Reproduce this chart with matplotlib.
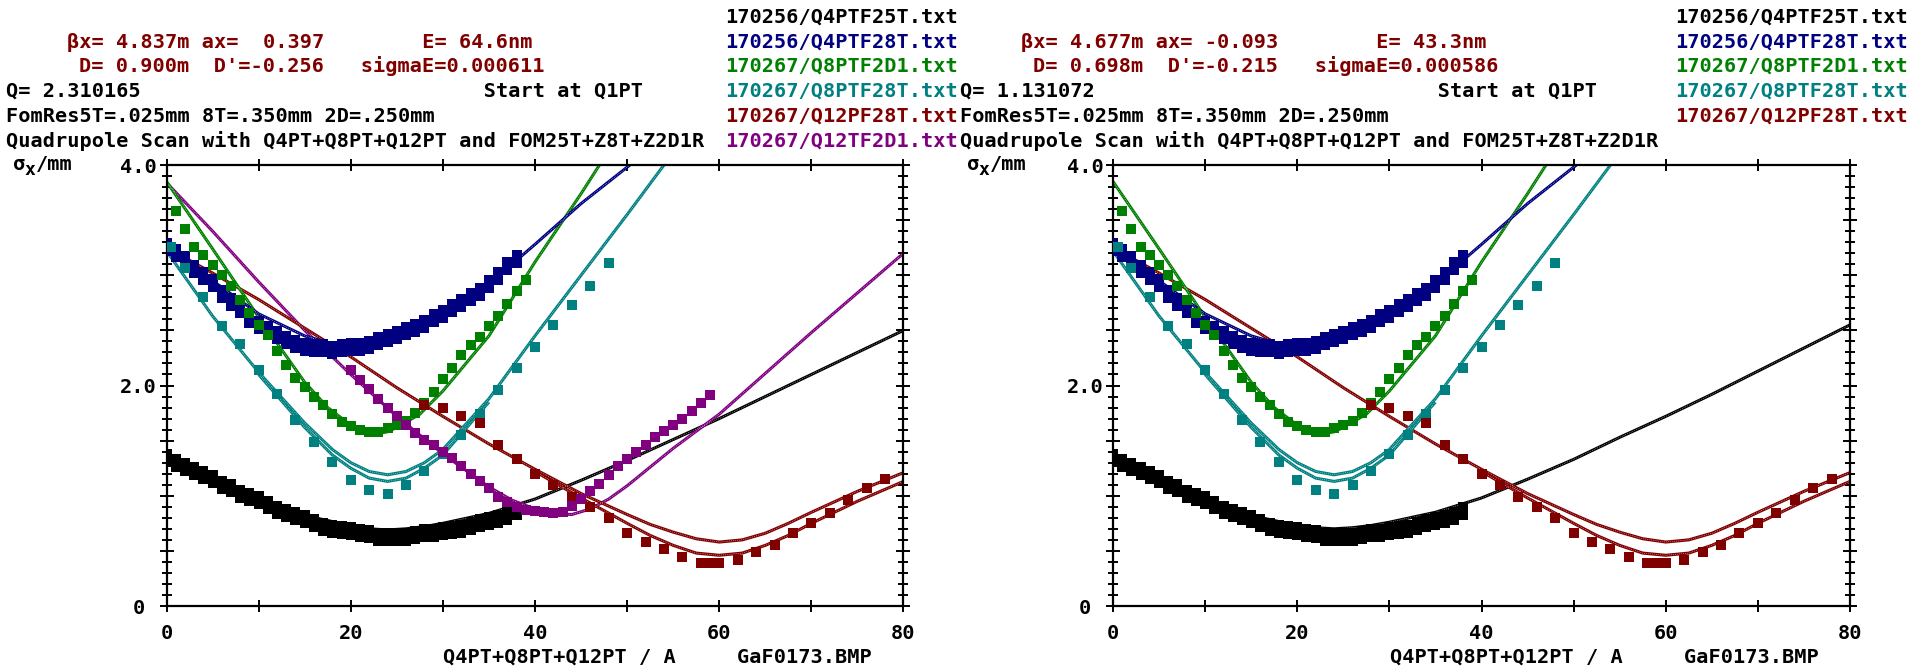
import matplotlib.pyplot as plt
from matplotlib.ticker import MultipleLocator, FuncFormatter

W, H = 1907, 669

# measured sigma_x (mm) vs quad current (A) -- same scan files on both panels
x_black = [0, 1, 2, 3, 4, 5, 6, 7, 8, 9, 10, 11, 12, 13, 14, 15, 16, 17, 18, 19,
           20, 21, 22, 23, 24, 25, 26, 27, 28, 29, 30, 31, 32, 33, 34, 35, 36, 37, 38]
y_black = [1.34, 1.30, 1.26, 1.22, 1.19, 1.15, 1.10, 1.07, 1.02, 0.99,
           0.96, 0.92, 0.87, 0.84, 0.82, 0.79, 0.75, 0.72, 0.70, 0.69,
           0.68, 0.66, 0.65, 0.63, 0.63, 0.63, 0.63, 0.64, 0.66, 0.66,
           0.68, 0.69, 0.70, 0.73, 0.75, 0.77, 0.79, 0.82, 0.86]

x_blue = x_black
y_blue = [3.26, 3.20, 3.14, 3.06, 2.99, 2.93, 2.83, 2.76, 2.69, 2.60,
          2.55, 2.50, 2.46, 2.41, 2.38, 2.35, 2.34, 2.34, 2.32, 2.34,
          2.35, 2.35, 2.37, 2.40, 2.43, 2.46, 2.49, 2.52, 2.56, 2.61,
          2.65, 2.70, 2.75, 2.80, 2.85, 2.92, 2.99, 3.08, 3.15]

x_green = [1, 2, 3, 4, 5, 6, 7, 8, 9, 10, 11, 12, 13, 14, 15, 16, 17, 18, 19, 20,
           21, 22, 23, 24, 25, 26, 27, 28, 29, 30, 31, 32, 33, 34, 35, 36, 37, 38, 39]
y_green = [3.58, 3.42, 3.26, 3.18, 3.09, 3.00, 2.90, 2.78, 2.66, 2.55,
           2.46, 2.31, 2.19, 2.07, 1.99, 1.90, 1.82, 1.74, 1.67, 1.63,
           1.60, 1.58, 1.58, 1.61, 1.64, 1.68, 1.75, 1.84, 1.94, 2.06,
           2.16, 2.28, 2.37, 2.44, 2.54, 2.63, 2.74, 2.86, 2.96]

x_teal = [0.5, 2, 4, 6, 8, 10, 12, 14, 16, 18, 20, 22, 24, 26, 28, 30, 32, 34,
          36, 38, 40, 42, 44, 46, 48]
y_teal = [3.26, 3.07, 2.80, 2.54, 2.38, 2.14, 1.92, 1.69, 1.49, 1.31, 1.14,
          1.05, 1.02, 1.10, 1.22, 1.38, 1.55, 1.74, 1.96, 2.16, 2.35, 2.55,
          2.73, 2.90, 3.11]

x_red = [28, 30, 32, 34, 36, 38, 40, 42, 44, 46, 48, 50, 52, 54, 56, 58, 59, 60,
         62, 64, 66, 68, 70, 72, 74, 76, 78]
y_red = [1.82, 1.80, 1.72, 1.66, 1.46, 1.33, 1.20, 1.10, 0.99, 0.90, 0.80, 0.66,
         0.58, 0.52, 0.44, 0.39, 0.39, 0.39, 0.42, 0.49, 0.55, 0.66, 0.75, 0.84,
         0.96, 1.07, 1.15]

x_purple = [20, 21, 22, 23, 24, 25, 26, 27, 28, 29, 30, 31, 32, 33, 34, 35, 36, 37,
            38, 39, 40, 41, 42, 43, 44, 45, 46, 47, 48, 49, 50, 51, 52, 53, 54, 55,
            56, 57, 58, 59]
y_purple = [2.14, 2.05, 1.97, 1.88, 1.80, 1.72, 1.64, 1.57, 1.51, 1.46, 1.40,
            1.34, 1.27, 1.20, 1.13, 1.07, 0.99, 0.94, 0.90, 0.87, 0.86, 0.85,
            0.84, 0.85, 0.91, 0.97, 1.04, 1.11, 1.19, 1.27, 1.33, 1.40, 1.46,
            1.53, 1.59, 1.64, 1.70, 1.77, 1.84, 1.91]

# fitted envelopes, left panel (Q= 2.310165)
fx_black = [0, 5, 10, 15, 20, 22, 24, 26, 28, 30, 35, 40, 45, 50, 55, 60, 65, 70, 75, 80]
fy_black_l = [1.38, 1.14, 0.96, 0.82, 0.73, 0.70, 0.69, 0.70, 0.72, 0.75, 0.84,
              0.97, 1.14, 1.32, 1.51, 1.70, 1.90, 2.10, 2.30, 2.50]
fx_blue = [0, 5, 10, 15, 17.5, 20, 22.5, 25, 30, 35, 40, 45, 50.3]
fy_blue_l = [3.30, 2.95, 2.65, 2.45, 2.39, 2.37, 2.39, 2.45, 2.63, 2.92, 3.28,
             3.65, 4.0]
fx_green = [0, 5, 10, 15, 17.5, 20, 21, 22.5, 24, 25, 27.5, 30, 35, 40, 45, 47]
fy_green_l = [3.85, 3.24, 2.62, 2.03, 1.80, 1.64, 1.59, 1.56, 1.58, 1.62, 1.74,
              1.95, 2.45, 3.12, 3.74, 4.0]
fx_teal = [0, 5, 10, 15, 18, 20, 22, 24, 26, 28, 30, 35, 40, 45, 50, 54]
fy_teal_l = [3.22, 2.63, 2.12, 1.66, 1.42, 1.30, 1.22, 1.19, 1.22, 1.30, 1.42,
             1.88, 2.45, 3.0, 3.55, 4.0]
fx_teal2 = [10, 15, 18, 20, 22, 24, 26, 28, 30, 35]
fy_teal2_l = [2.10, 1.62, 1.37, 1.25, 1.16, 1.13, 1.16, 1.25, 1.37, 1.85]
fx_red = [0, 5, 10, 15, 20, 25, 30, 35, 40, 45, 50, 52.5, 55, 57.5, 60, 62.5, 65,
          67.5, 70, 75, 80]
fy_red_l = [3.25, 3.02, 2.78, 2.52, 2.26, 1.98, 1.72, 1.47, 1.24, 1.02, 0.83, 0.74,
            0.67, 0.61, 0.58, 0.60, 0.66, 0.75, 0.85, 1.04, 1.21]
fx_red2 = [40, 45, 50, 52.5, 55, 57.5, 60, 62.5, 65, 67.5, 70, 75, 80]
fy_red2_l = [1.22, 0.98, 0.75, 0.64, 0.55, 0.48, 0.46, 0.48, 0.55, 0.64, 0.75,
             0.95, 1.13]
fx_purple = [0, 5, 10, 15, 20, 25, 30, 35, 37.5, 40, 42, 44, 46, 48, 50, 52.5, 55,
             60, 65, 70, 75, 80]
fy_purple_l = [3.84, 3.40, 2.94, 2.50, 2.10, 1.72, 1.38, 1.08, 0.96, 0.88, 0.835,
               0.83, 0.88, 0.97, 1.09, 1.26, 1.43, 1.74, 2.11, 2.48, 2.84, 3.20]

# fitted envelopes, right panel (Q= 1.131072)
fy_black_r = [1.38, 1.14, 0.96, 0.82, 0.73, 0.71, 0.70, 0.71, 0.73, 0.76, 0.85,
              0.98, 1.15, 1.33, 1.53, 1.72, 1.92, 2.13, 2.34, 2.55]
fy_blue_r = fy_blue_l
fy_green_r = fy_green_l
fy_teal_r = fy_teal_l
fy_teal2_r = fy_teal2_l
fy_red_r = fy_red_l
fy_red2_r = fy_red2_l

files = ["170256/Q4PTF25T.txt", "170256/Q4PTF28T.txt", "170267/Q8PTF2D1.txt",
         "170267/Q8PTF28T.txt", "170267/Q12PF28T.txt", "170267/Q12TF2D1.txt"]
file_colors = ["#000000", "#000080", "#008000", "#008080", "#800000", "#800080"]

panels = [
    dict(beta="βx= 4.837m ax=  0.397        E= 64.6nm",
         disp="D= 0.900m  D'=-0.256   sigmaE=0.000611",
         q="Q= 2.310165", nfiles=6,
         fits=[(fx_black, fy_black_l, "#000000"), (fx_purple, fy_purple_l, "#800080"),
               (fx_red, fy_red_l, "#800000"), (fx_red2, fy_red2_l, "#800000"),
               (fx_teal, fy_teal_l, "#008080"), (fx_teal2, fy_teal2_l, "#008080"),
               (fx_green, fy_green_l, "#008000"), (fx_blue, fy_blue_l, "#000080")]),
    dict(beta="βx= 4.677m ax= -0.093        E= 43.3nm",
         disp="D= 0.698m  D'=-0.215   sigmaE=0.000586",
         q="Q= 1.131072", nfiles=5,
         fits=[(fx_black, fy_black_r, "#000000"),
               (fx_red, fy_red_r, "#800000"), (fx_red2, fy_red2_r, "#800000"),
               (fx_teal, fy_teal_r, "#008080"), (fx_teal2, fy_teal2_r, "#008080"),
               (fx_green, fy_green_r, "#008000"), (fx_blue, fy_blue_r, "#000080")]),
]

MONO = "DejaVu Sans Mono"
FS = 14.6
CW = 12.2  # character advance in px

plt.rcParams["font.family"] = MONO
plt.rcParams["font.weight"] = "bold"
fig = plt.figure(figsize=(W / 100, H / 100), dpi=100)


def ftext(px, py, s, color="#000000", **kw):
    fig.text(px / W, 1 - py / H, s, color=color, fontsize=kw.pop("fontsize", FS),
             va="center", ha="left", family=MONO, weight="bold", **kw)


tall = [(-0.5, -1), (0.5, -1), (0.5, 1), (-0.5, 1), (-0.5, -1)]

rows = [17, 42, 66, 91, 116, 141]
for i, p in enumerate(panels):
    x0 = 6 if i == 0 else 960
    ftext(x0 + 5 * CW, rows[1], p["beta"], "#800000")
    ftext(x0 + 6 * CW, rows[2], p["disp"], "#800000")
    ftext(x0, rows[3], f"{p['q']:<39}Start at Q1PT")
    ftext(x0, rows[4], "FomRes5T=.025mm 8T=.350mm 2D=.250mm")
    ftext(x0, rows[5], "Quadrupole Scan with Q4PT+Q8PT+Q12PT and FOM25T+Z8T+Z2D1R")
    lx = 725 if i == 0 else 1675
    for k in range(p["nfiles"]):
        ftext(lx, rows[k], files[k], file_colors[k])
    ftext(x0 + 7, 164, "σ")
    ftext(x0 + 19, 170, "x", fontsize=13)
    ftext(x0 + 30, 164, "/mm")

    left = 166.5 if i == 0 else 1113
    ax = fig.add_axes([left / W, 63 / H, 737 / W, 441 / H])
    ax.set_xlim(0, 80)
    ax.set_ylim(0, 4.0)

    for fx, fy, c in p["fits"]:
        ax.plot(fx, fy, color=c, lw=2.2, solid_capstyle="butt", zorder=2)
        ax.plot(fx, fy, color="white", lw=0.5, dashes=(0.8, 2.0), zorder=2.1)

    ms = 7.3
    ax.plot(x_black, y_black, ls="none", marker=tall, ms=13, mew=0, color="#000000", zorder=3)
    ax.plot(x_blue, y_blue, ls="none", marker=tall, ms=13, mew=0, color="#000080", zorder=3)
    ax.plot(x_green, y_green, ls="none", marker="s", ms=ms, mew=0, color="#008000", zorder=3)
    ax.plot(x_teal, y_teal, ls="none", marker="s", ms=ms, mew=0, color="#008080", zorder=3)
    ax.plot(x_red, y_red, ls="none", marker="s", ms=ms, mew=0, color="#800000", zorder=3)
    if i == 0:
        ax.plot(x_purple, y_purple, ls="none", marker="s", ms=ms, mew=0,
                color="#800080", zorder=3)

    for s in ax.spines.values():
        s.set_linewidth(1.6)
    ax.xaxis.set_major_locator(MultipleLocator(10))
    ax.yaxis.set_major_locator(MultipleLocator(0.5))
    ax.yaxis.set_minor_locator(MultipleLocator(0.1))
    ax.xaxis.set_major_formatter(FuncFormatter(lambda v, _: "%d" % v if v % 20 == 0 else ""))
    ax.yaxis.set_major_formatter(FuncFormatter(
        lambda v, _: {0: "0", 2: "2.0", 4: "4.0"}.get(round(v, 1), "")))
    ax.tick_params(which="both", direction="inout", top=True, right=True,
                   labelsize=FS, width=1.4, color="#000000")
    ax.tick_params(axis="y", which="major", length=10, pad=15)
    ax.tick_params(axis="y", which="minor", length=7)
    ax.tick_params(axis="x", which="major", length=8, pad=16)
    plt.setp(ax.get_yticklabels(), ha="center")
    plt.setp(ax.get_xticklabels(), va="center")

    ax.text(277 / 737, -51 / 441, "Q4PT+Q8PT+Q12PT / A     GaF0173.BMP",
            transform=ax.transAxes, fontsize=FS, va="center", ha="left")

fig.savefig("out.png", dpi=100)
